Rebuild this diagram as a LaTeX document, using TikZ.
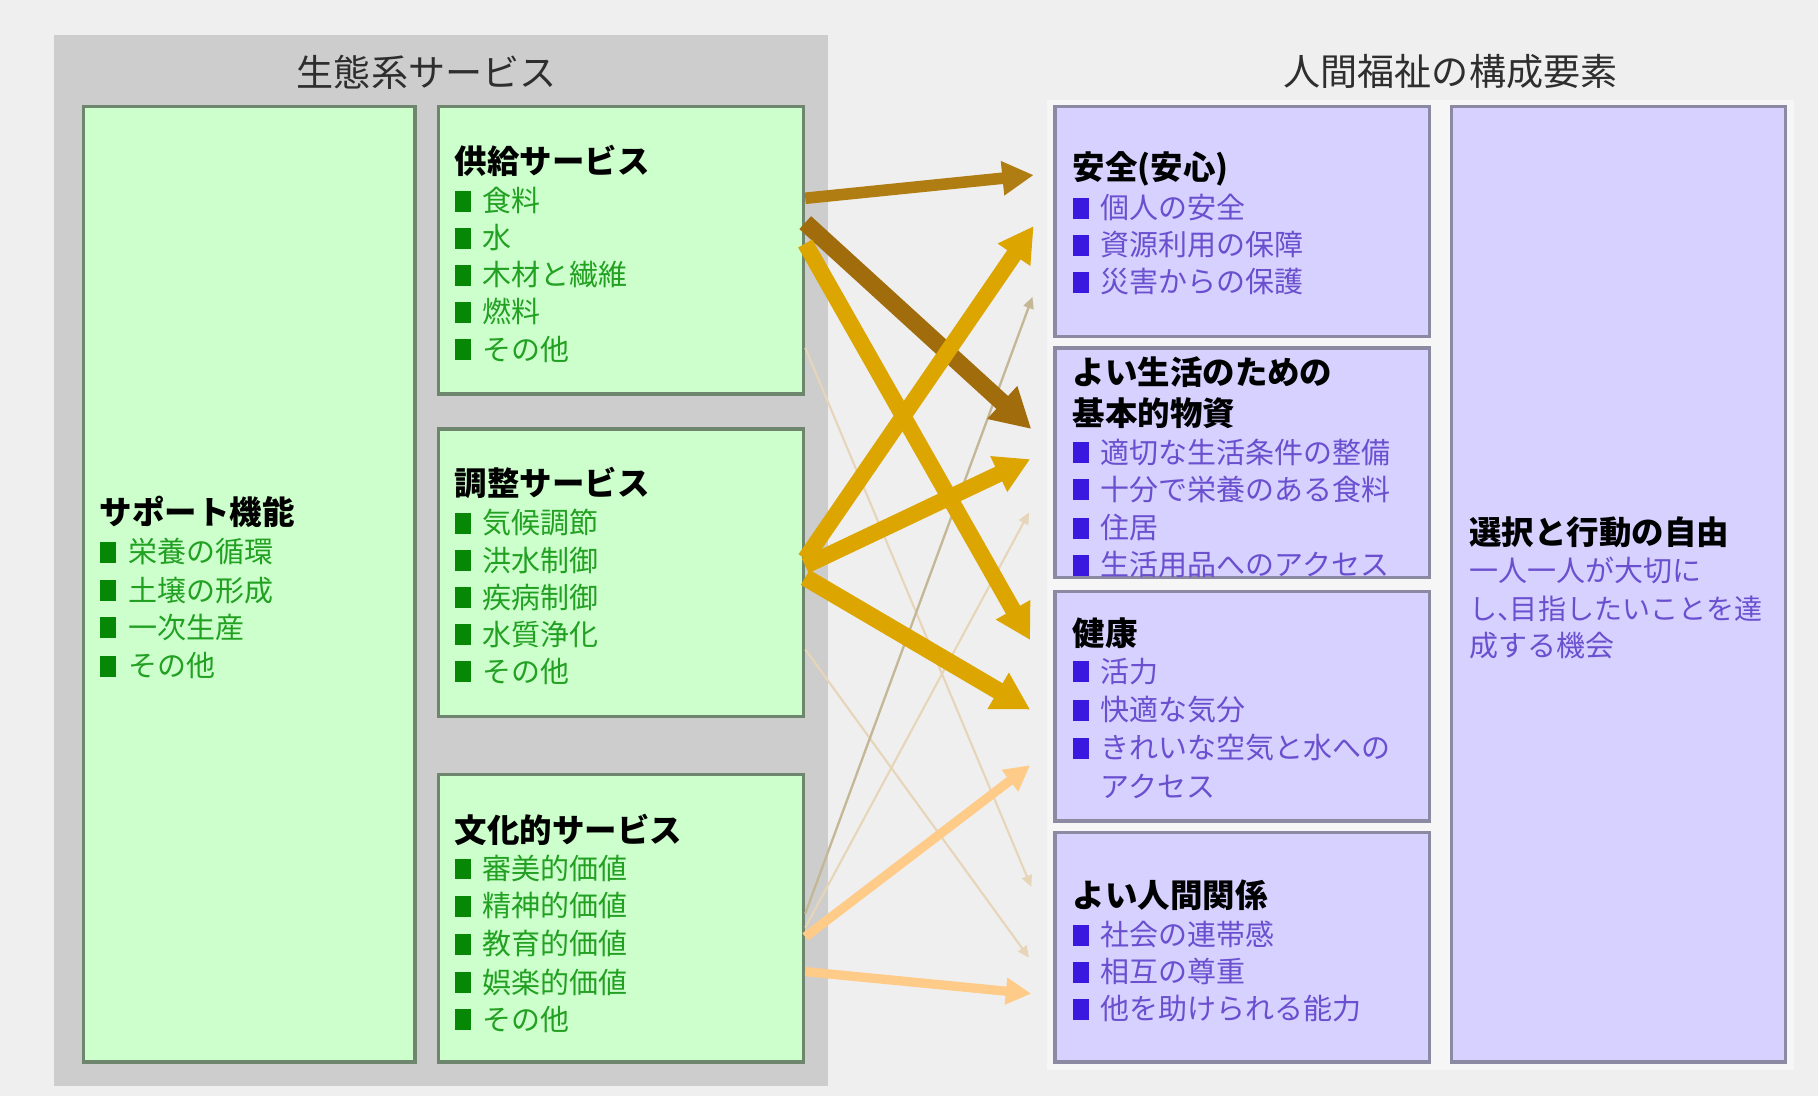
\documentclass[tikz,border=0pt]{standalone}
\usepackage{fontspec}
\setmainfont{Noto Sans CJK JP}
\usetikzlibrary{arrows.meta,calc}
\definecolor{bg}{HTML}{EFEFEF}
\definecolor{rightbg}{HTML}{F6F6F6}
\definecolor{grayp}{HTML}{CDCDCD}
\definecolor{gfill}{HTML}{CCFFCC}
\definecolor{gline}{HTML}{6E856E}
\definecolor{pfill}{HTML}{D6D1FF}
\definecolor{pline}{HTML}{8C8AA3}
\definecolor{gtext}{HTML}{22A022}
\definecolor{gbul}{HTML}{068806}
\definecolor{ptext}{HTML}{6A4FCF}
\definecolor{pbul}{HTML}{3A18E0}
\definecolor{ttl}{HTML}{2E2E2E}
\definecolor{aBrown}{HTML}{B07D12}
\definecolor{aDark}{HTML}{A16C0B}
\definecolor{aGold}{HTML}{DCA500}
\definecolor{aOrange}{HTML}{FFCB88}
\definecolor{aTan}{HTML}{C4B796}
\definecolor{aFaint}{HTML}{E6D5B8}
\newcommand\gb{\textcolor{gbul}{\rule{0.55em}{0.72em}}\hspace{0.42em}}
\newcommand\pb{\textcolor{pbul}{\rule{0.55em}{0.72em}}\hspace{0.42em}}
\newcommand\ncomma{\makebox[0.45em][l]{、}}
\begin{document}
\begin{tikzpicture}[x=1pt,y=-1pt,
  gbox/.style={draw=gline, line width=3pt, fill=gfill, rectangle, inner sep=0},
  pbox/.style={draw=pline, line width=3pt, fill=pfill, rectangle, inner sep=0},
  txt/.style={anchor=west, inner sep=0, execute at begin node={\rule[-0.12em]{0pt}{1em}}},
  hd/.style={txt, font=\fontsize{28}{32}\selectfont\bfseries},
  gi/.style={txt, text=gtext, font=\fontsize{25}{30}\selectfont},
  pi/.style={txt, text=ptext, font=\fontsize{25}{30}\selectfont},
  ttlstyle/.style={inner sep=0, text=ttl, font=\fontsize{32}{36}\selectfont},
  arr/.style args={#1/#2/#3/#4}{draw=#1, line width=#2pt, -{Triangle[length=#3pt,width=#4pt]}},
]
\useasboundingbox (0,0) rectangle (1568,945);
\fill[bg] (0,0) rectangle (1568,945);
\fill[rightbg] (903,86) rectangle (1547,923);

% panels
\node[rectangle, fill=grayp, minimum width=667pt, minimum height=907pt, inner sep=0] (eco) at (380.5,483.5) {};
\node[gbox, minimum width=286pt, minimum height=824pt] (sup) at (215,504) {};
\node[gbox, minimum width=315pt, minimum height=248pt] (prov) at (535.5,216) {};
\node[gbox, minimum width=315pt, minimum height=248pt] (reg) at (535.5,494) {};
\node[gbox, minimum width=315pt, minimum height=248pt] (cult) at (535.5,792) {};
\node[pbox, minimum width=323pt, minimum height=198pt] (safe) at (1071.5,191) {};
\node[pbox, minimum width=323pt, minimum height=198pt] (basic) at (1071.5,399) {};
\node[pbox, minimum width=323pt, minimum height=198pt] (health) at (1071.5,609) {};
\node[pbox, minimum width=323pt, minimum height=198pt] (social) at (1071.5,817) {};
\node[pbox, minimum width=288pt, minimum height=824pt] (free) at (1396,504) {};

% titles
\node[ttlstyle] (t1) at (368,62) {生態系サービス};
\node[ttlstyle] (t2) at (1251,62) {人間福祉の構成要素};

% faint arrows
\draw[arr={aFaint/1.8/10/9}] (prov.east |- 0,300) -- ($(social.west |- 0,765)+(-19,0)$);
\draw[arr={aFaint/1.8/10/9}] (reg.east |- 0,560) -- ($(social.west |- 0,826)+(-21,0)$);
\draw[arr={aFaint/1.8/10/9}] (cult.east |- 0,800) -- ($(basic.west |- 0,442)+(-21,0)$);
\draw[arr={aTan/2/10/9}] (cult.east |- 0,788) -- ($(safe.west |- 0,256)+(-18,0)$);
% cultural arrows
\draw[arr={aOrange/8/22/22}] (cult.east |- 0,808) -- ($(health.west |- 0,660)+(-20,0)$);
\draw[arr={aOrange/8/22/22}] (cult.east |- 0,838) -- ($(social.west |- 0,857)+(-19,0)$);
% provisioning arrows
\draw[arr={aBrown/10/27/28}] (prov.east |- 0,171) -- ($(safe.west |- 0,151)+(-17,0)$);
\draw[arr={aDark/15/34/36}] (prov.east |- 0,192) -- ($(basic.west |- 0,370)+(-19,0)$);
\draw[arr={aGold/14/30/32}] (prov.east |- 0,210) -- ($(health.west |- 0,552)+(-20,0)$);
% regulating arrows
\draw[arr={aGold/14/30/32}] (reg.east |- 0,482) -- ($(safe.west |- 0,195)+(-17,0)$);
\draw[arr={aGold/14/30/32}] (reg.east |- 0,488) -- ($(basic.west |- 0,396)+(-20,0)$);
\draw[arr={aGold/15/32/34}] (reg.east |- 0,498) -- ($(health.west |- 0,612)+(-20,0)$);

% support
\node[hd] (s0) at (86,442) {サポート機能};
\node[gi] (s1) at (86,476) {\gb 栄養の循環};
\node[gi] (s2) at (86,509) {\gb 土壌の形成};
\node[gi] (s3) at (86,541) {\gb 一次生産};
\node[gi] (s4) at (86,574) {\gb その他};
% provisioning
\node[hd] (p0) at (392,139) {供給サービス};
\node[gi] (p1) at (392,173) {\gb 食料};
\node[gi] (p2) at (392,205) {\gb 水};
\node[gi] (p3) at (392,237) {\gb 木材と繊維};
\node[gi] (p4) at (392,269) {\gb 燃料};
\node[gi] (p5) at (392,301) {\gb その他};
% regulating
\node[hd] (r0) at (392,417) {調整サービス};
\node[gi] (r1) at (392,451) {\gb 気候調節};
\node[gi] (r2) at (392,483) {\gb 洪水制御};
\node[gi] (r3) at (392,515) {\gb 疾病制御};
\node[gi] (r4) at (392,547) {\gb 水質浄化};
\node[gi] (r5) at (392,579) {\gb その他};
% cultural
\node[hd] (c0) at (392,716) {文化的サービス};
\node[gi] (c1) at (392,749) {\gb 審美的価値};
\node[gi] (c2) at (392,781) {\gb 精神的価値};
\node[gi] (c3) at (392,814) {\gb 教育的価値};
\node[gi] (c4) at (392,847) {\gb 娯楽的価値};
\node[gi] (c5) at (392,879) {\gb その他};
% security
\node[hd] (a0) at (925,145) {安全(安心)};
\node[pi] (a1) at (925,179) {\pb 個人の安全};
\node[pi] (a2) at (925,211) {\pb 資源利用の保障};
\node[pi] (a3) at (925,243) {\pb 災害からの保護};
% basic material
\node[hd] (b0) at (925,321) {よい生活のための};
\node[hd] (b0b) at (925,356) {基本的物資};
\node[pi] (b1) at (925,390) {\pb 適切な生活条件の整備};
\node[pi] (b2) at (925,422) {\pb 十分で栄養のある食料};
\node[pi] (b3) at (925,455) {\pb 住居};
\node[pi] (b4) at (925,487) {\pb 生活用品へのアクセス};
% health
\node[hd] (h0) at (925,546) {健康};
\node[pi] (h1) at (925,579) {\pb 活力};
\node[pi] (h2) at (925,612) {\pb 快適な気分};
\node[pi] (h3) at (925,645) {\pb きれいな空気と水への};
\node[pi] (h4) at (949,678) {アクセス};
% social relations
\node[hd] (g0) at (925,772) {よい人間関係};
\node[pi] (g1) at (925,806) {\pb 社会の連帯感};
\node[pi] (g2) at (925,838) {\pb 相互の尊重};
\node[pi] (g3) at (925,870) {\pb 他を助けられる能力};
% freedom
\node[hd] (f0) at (1267,459) {選択と行動の自由};
\node[pi] (f1) at (1267,492) {一人一人が大切に};
\node[pi, font=\fontsize{24.2}{30}\selectfont] (f2) at (1267,525) {し\ncomma 目指したいことを達};
\node[pi] (f3) at (1267,557) {成する機会};
\end{tikzpicture}
\end{document}
